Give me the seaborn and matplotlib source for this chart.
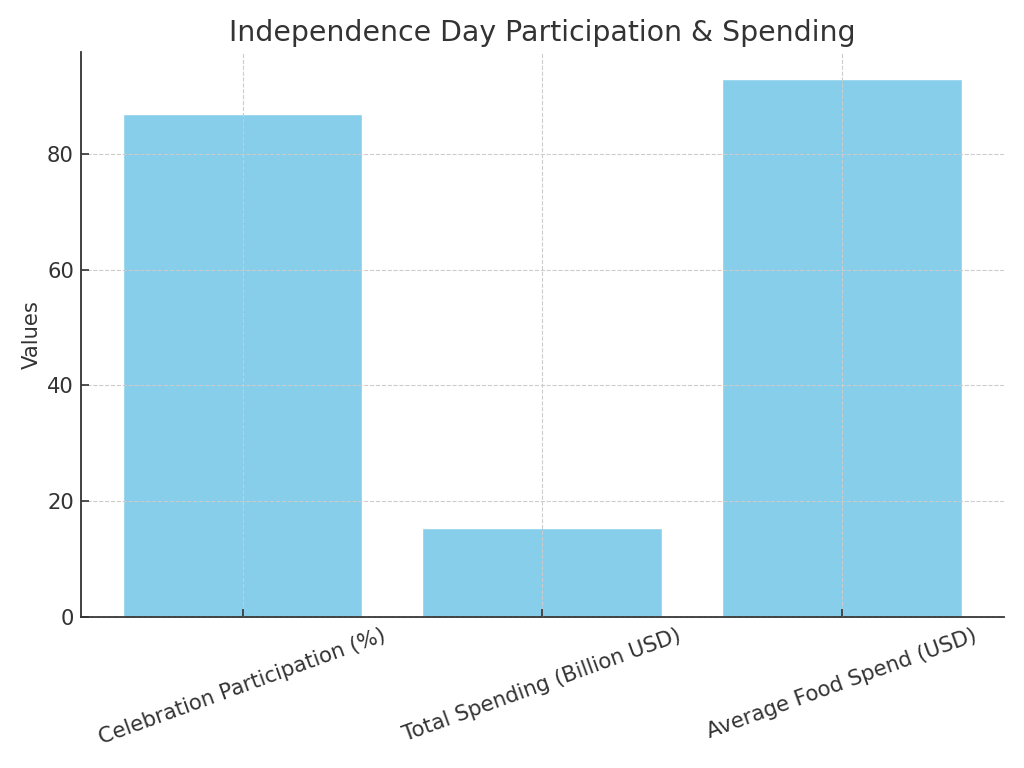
import matplotlib
matplotlib.use("Agg")
import matplotlib.pyplot as plt
import seaborn as sns
import pandas as pd

categories = ["Celebration Participation (%)", "Total Spending (Billion USD)", "Average Food Spend (USD)"]
values = [87, 15.4, 93]

sns.set_theme(style="white")
plt.rcParams['font.family'] = ['DejaVu Sans']
plt.rcParams['text.color'] = '#333333'
plt.rcParams['axes.labelcolor'] = '#333333'
plt.rcParams['xtick.color'] = '#333333'
plt.rcParams['ytick.color'] = '#333333'

df = pd.DataFrame({"Metric": categories, "Value": values})

fig, ax = plt.subplots(figsize=(10.24, 7.68), dpi=100)
sns.barplot(data=df, x="Metric", y="Value", color="#87CEEB", saturation=1, width=0.8, ax=ax)
ax.set_xlim(-0.54, 2.54)
ax.set_ylim(0, 97.65)
ax.set_title("Independence Day Participation & Spending", fontsize=20.4, color='#333333', pad=8)
ax.set_xlabel("")
ax.set_ylabel("Values", fontsize=15.2)
ax.tick_params(axis='both', direction='in', length=6, width=1.2, labelsize=15.2,
               colors='#333333', bottom=True, left=True)
ax.tick_params(axis='x', pad=6)
ax.tick_params(axis='y', pad=5)
plt.setp(ax.get_xticklabels(), rotation=20, ha='center')
ax.grid(True, linestyle='--', color='#cccccc', linewidth=0.8)
ax.set_axisbelow(False)
sns.despine(ax=ax)
for s in ['left', 'bottom']:
    ax.spines[s].set_color('#333333')
    ax.spines[s].set_linewidth(1.3)
fig.subplots_adjust(left=0.079, right=0.98, top=0.932, bottom=0.197)
fig.savefig("out.png", dpi=100)
